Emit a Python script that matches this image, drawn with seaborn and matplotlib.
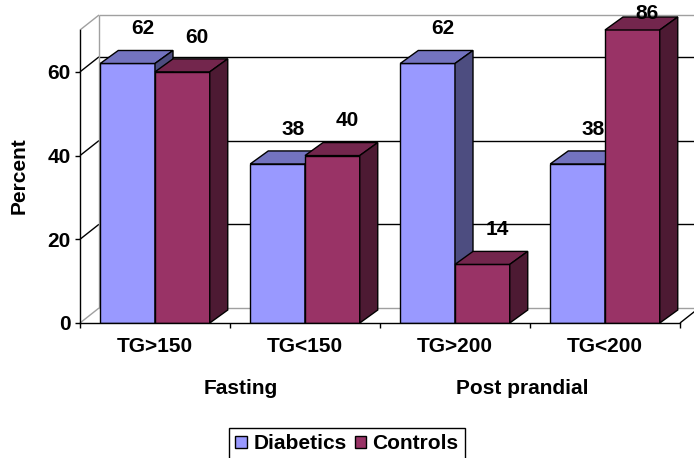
import matplotlib
matplotlib.use("Agg")
import matplotlib.pyplot as plt
from matplotlib.patches import Polygon, Patch
import pandas as pd
import seaborn as sns

# Triglyceride groups and percentages
categories = ["TG>150", "TG<150", "TG>200", "TG<200"]
diabetics = [62, 38, 62, 38]
controls = [60, 40, 14, 86]
series = ["Diabetics", "Controls"]
groups = ["Fasting", "Post prandial"]
yticks = [0, 20, 40, 60]

df = pd.DataFrame({
    "category": categories * 2,
    "percent": diabetics + controls,
    "series": [series[0]] * len(categories) + [series[1]] * len(categories),
})

sns.set_style("white")
plt.rcParams["font.family"] = ["Liberation Sans", "DejaVu Sans"]
plt.rcParams["font.weight"] = "bold"
plt.rcParams["text.color"] = "black"
plt.rcParams["xtick.color"] = "black"
plt.rcParams["ytick.color"] = "black"

FS = 15

front = {"Diabetics": "#9999FF", "Controls": "#993366"}
top = {"Diabetics": "#7373BF", "Controls": "#73264D"}
side = {"Diabetics": "#4D4D80", "Controls": "#4D1A33"}
wall_grey = "#A0A0A0"

W, H = 694, 458
fig = plt.figure(figsize=(W / 100, H / 100), dpi=100)
ax = fig.add_axes([80 / W, 1 - 323 / H, 600 / W, 293 / H])

sns.barplot(data=df, x="category", y="percent", hue="series",
            order=categories, hue_order=series, palette=front,
            width=0.73, saturation=1, edgecolor="black", linewidth=1,
            errorbar=None, legend=False, ax=ax)

ymax = 70
ax.set_xlim(-0.5, 3.5)
ax.set_ylim(0, ymax)

# pixel sizes of the pseudo-3D depth, converted to data units
px_x = 600 / 4.0
px_y = 293 / ymax
wdx, wdy = 19 / px_x, 15 / px_y     # walls
bdx, bdy = 18 / px_x, 13 / px_y     # bars

x0, x1 = -0.5, 3.5

def line(xs, ys, color, z=0.5):
    ax.plot(xs, ys, color=color, lw=1, clip_on=False, zorder=z,
            solid_capstyle="butt")

# back wall and left wall
for y in yticks[1:]:
    line([x0 + wdx, x1 + wdx + 0.2], [y + wdy, y + wdy], "black")
    line([x0, x0 + wdx], [y, y + wdy], "black")
line([x0 + wdx, x1 + wdx + 0.2], [ymax + wdy, ymax + wdy], wall_grey)
line([x0 + wdx, x1 + wdx + 0.2], [wdy, wdy], wall_grey)
line([x0 + wdx, x0 + wdx], [wdy, ymax + wdy], wall_grey)
line([x0, x0 + wdx], [0, wdy], wall_grey)
line([x0, x0 + wdx], [ymax, ymax + wdy], wall_grey)
line([x1, x1 + wdx], [0, wdy], "black", z=5)

# give each bar its top and side faces
for p in list(ax.patches):
    bx = p.get_x()
    bw = p.get_width()
    h = p.get_height()
    center = bx + bw / 2
    idx = int(round(center))
    name = series[0] if center < idx else series[1]
    z = 2 if name == series[0] else 3
    p.set_zorder(z)
    vis = min(h, ymax)
    top_face = Polygon([(bx, vis), (bx + bdx, vis + bdy),
                        (bx + bw + bdx, vis + bdy), (bx + bw, vis)],
                       closed=True, facecolor=top[name], edgecolor="black",
                       lw=1, zorder=z, clip_on=False)
    side_face = Polygon([(bx + bw, 0), (bx + bw + bdx, bdy),
                         (bx + bw + bdx, vis + bdy), (bx + bw, vis)],
                        closed=True, facecolor=side[name], edgecolor="black",
                        lw=1, zorder=z, clip_on=False)
    ax.add_patch(top_face)
    ax.add_patch(side_face)
    ax.text(center + 0.1, min(vis + 8.3, 74), f"{h:g}", ha="center",
            va="center", fontsize=FS, fontweight="bold", color="black",
            clip_on=False, zorder=6)

# axes, ticks and labels
for s in ["top", "right"]:
    ax.spines[s].set_visible(False)
for s in ["left", "bottom"]:
    ax.spines[s].set_color("black")
    ax.spines[s].set_linewidth(1)
    ax.spines[s].set_zorder(5)

ax.set_yticks(yticks)
ax.tick_params(axis="y", left=True, length=3.6, width=1, pad=3,
               labelsize=FS, colors="black")
ax.set_xticks(range(len(categories)))
ax.set_xticklabels(categories)
ax.set_xticks([x0 + i for i in range(len(categories) + 1)], minor=True)
ax.tick_params(axis="x", which="major", bottom=False, length=0, pad=10,
               labelsize=FS, colors="black")
ax.tick_params(axis="x", which="minor", bottom=True, length=3.6, width=1,
               color="black")
for t in ax.get_xticklabels() + ax.get_yticklabels():
    t.set_fontweight("bold")
ax.set_xlabel("")
ax.set_ylabel("")

fig.text(19 / W, 1 - 176 / H, "Percent", rotation=90, ha="center",
         va="center", fontsize=FS, fontweight="bold", color="black")
fig.text(241 / W, 1 - 389 / H, groups[0], ha="center", va="center",
         fontsize=FS, fontweight="bold", color="black")
fig.text(522 / W, 1 - 389 / H, groups[1], ha="center", va="center",
         fontsize=FS, fontweight="bold", color="black")

handles = [Patch(facecolor=front[s], edgecolor="black", lw=1) for s in series]
leg = fig.legend(handles, series, loc="upper center",
                 bbox_to_anchor=(347 / W, 1 - 428 / H), ncol=2,
                 frameon=True, fancybox=False, edgecolor="black",
                 fontsize=FS, handlelength=0.55, handleheight=0.55,
                 handletextpad=0.3, columnspacing=0.4, borderpad=0.3,
                 borderaxespad=0, framealpha=1)
leg.get_frame().set_linewidth(1)
for t in leg.get_texts():
    t.set_fontweight("bold")
    t.set_color("black")

fig.savefig("out.png", dpi=100)
